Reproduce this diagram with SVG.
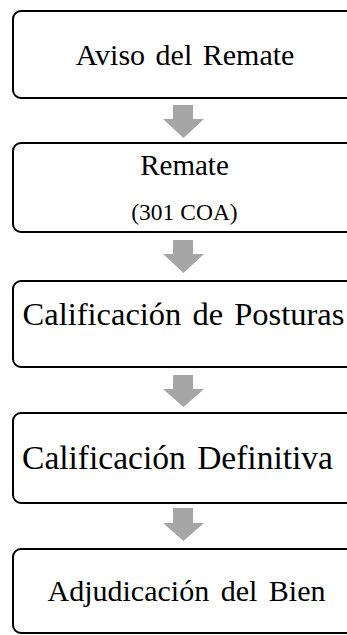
<svg xmlns="http://www.w3.org/2000/svg" width="347" height="635" viewBox="0 0 347 635">
<style>
.box{fill:#fff;stroke:#000;stroke-width:2}
.arr{fill:#a6a6a6}
text{font-family:"Liberation Serif","Times New Roman",serif;fill:#000;text-anchor:middle}
</style>
<rect width="347" height="635" fill="#fff"/>
<g id="connectors">
<polygon class="arr" points="173,105 193,105 193,119 204,119 183.5,138 163,119 173,119"/>
<polygon class="arr" points="173,240 193,240 193,254 204,254 183.5,273 163,254 173,254"/>
<polygon class="arr" points="173,375 193,375 193,389 204,389 183.5,407 163,389 173,389"/>
<polygon class="arr" points="173,508 193,508 193,523 204,523 183.5,541 163,523 173,523"/>
</g>
<g id="n1">
<rect class="box" x="13" y="11" width="350" height="87" rx="8"/>
<text x="185" y="65" font-size="30" word-spacing="3">Aviso del Remate</text>
</g>
<g id="n2">
<rect class="box" x="13" y="143" width="350" height="89" rx="8"/>
<text x="184.5" y="175" font-size="29">Remate</text>
<text x="184.5" y="220" font-size="23.5">(301 COA)</text>
</g>
<g id="n3">
<rect class="box" x="13" y="281" width="350" height="86" rx="8"/>
<text x="183.5" y="325" font-size="32.5" word-spacing="3">Calificación de Posturas</text>
</g>
<g id="n4">
<rect class="box" x="13" y="413" width="350" height="90" rx="8"/>
<text x="177.5" y="469" font-size="33.5" word-spacing="3">Calificación Definitiva</text>
</g>
<g id="n5">
<rect class="box" x="13" y="549" width="350" height="84" rx="8"/>
<text x="186.5" y="601" font-size="30" word-spacing="4">Adjudicación del Bien</text>
</g>
</svg>
